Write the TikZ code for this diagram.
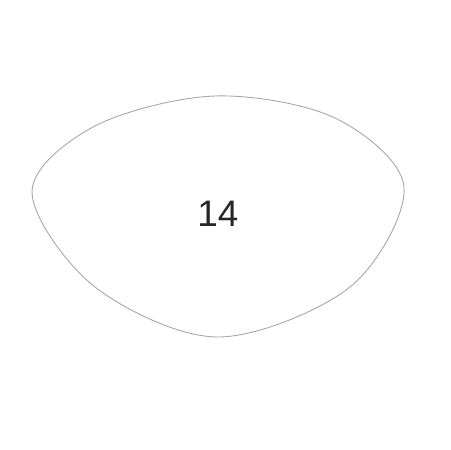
\documentclass[tikz,border=0pt]{standalone}
\usepackage{fontspec}
\setmainfont{Liberation Sans}
\usepackage{tikz}
\usetikzlibrary{positioning, calc}
\begin{document}
\begin{tikzpicture}[x=0.02cm,y=-0.02cm,draw=black!100]
	\def \leftx{32}
	\def \rightx{404}
	\def \midrow{192}
	\tikzstyle{blob-line}=[draw=black!35,line width=0.5pt]
	\tikzstyle{num-node}=[text centered,text=black!85,font=\fontsize{21}{25}\selectfont]
	\useasboundingbox (0,0) rectangle (450,450);

	% outline
	\path[blob-line] plot[smooth cycle,tension=0.55] coordinates {
		(\leftx,\midrow) (95,126) (215,96) (335,118)
		(\rightx,187) (350,287) (218,337) (95,287)};

	% label
	\node[num-node] (num14) at (218,214) {14};
\end{tikzpicture}
\end{document}
